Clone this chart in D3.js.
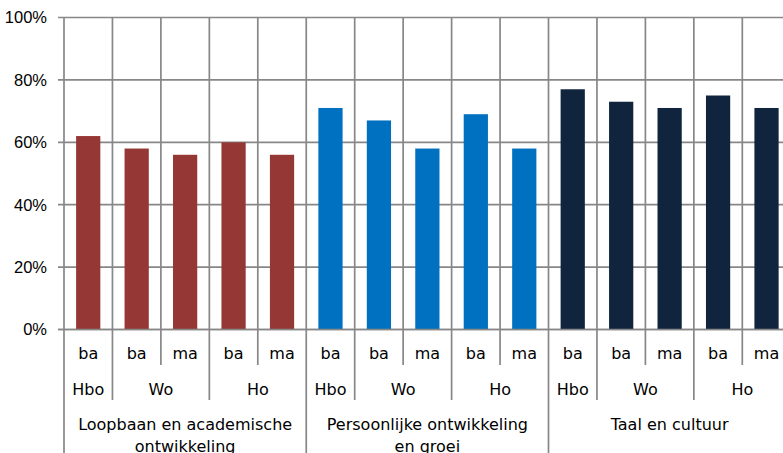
<!DOCTYPE html>
<html><head><meta charset="utf-8">
<script src="https://cdn.jsdelivr.net/npm/d3@7"></script>
<style>html,body{margin:0;padding:0;background:#fff;overflow:hidden}</style>
</head><body>
<svg id="chart" width="783" height="453"></svg>
<script>
// ---- data ----
const themes = ["Loopbaan en academische|ontwikkeling", "Persoonlijke ontwikkeling|en groei", "Taal en cultuur"];
const institutions = ["Hbo", "Wo", "Ho"];
const degrees = [["ba"], ["ba", "ma"], ["ba", "ma"]];
const loopbaanValues = [62, 58, 56, 60, 56];
const persoonlijkValues = [71, 67, 58, 69, 58];
const taalValues = [77, 73, 71, 75, 71];
const themeColors = ["#953735", "#0070C0", "#10243E"];
const yTicks = [0, 20, 40, 60, 80, 100];

// ---- build flat rows ----
const seriesValues = [loopbaanValues, persoonlijkValues, taalValues];
const rows = [];
themes.forEach((t, ti) => {
  let k = 0;
  institutions.forEach((inst, ii) => {
    degrees[ii].forEach(d => {
      rows.push({theme: ti, inst: ii, deg: d, value: seriesValues[ti][k], key: ti + "-" + ii + "-" + d});
      k++;
    });
  });
});

const svg = d3.select("#chart");
const left = 64, bandW = 48.45;
const x = d3.scaleBand().domain(rows.map(r => r.key)).range([left, left + bandW * rows.length]).padding(0);
const y = d3.scaleLinear().domain([0, 100]).range([329.5, 17.5]);
const grid = "#878787";
const catFont = "'DejaVu Sans', sans-serif";
const catSize = 16;

// horizontal gridlines + ticks
svg.append("g").selectAll("line").data(yTicks).join("line")
  .attr("x1", left - 6).attr("x2", 783)
  .attr("y1", d => y(d)).attr("y2", d => y(d))
  .attr("stroke", grid).attr("stroke-width", 1.7);

// y labels
svg.append("g").selectAll("text").data(yTicks).join("text")
  .attr("x", 47).attr("y", d => y(d)).attr("dy", "0.36em")
  .attr("text-anchor", "end")
  .attr("font-family", "'Liberation Sans', Arial, sans-serif").attr("font-size", 16.5)
  .attr("fill", "#000").text(d => d + "%");

// boundary lines
const bounds = d3.range(rows.length + 1);
function boundBottom(i) {
  if (i === 0 || i === rows.length) return 453;
  const prev = rows[i - 1], next = rows[i];
  if (prev.theme !== next.theme) return 453;
  if (prev.inst !== next.inst) return 400;
  return 365;
}
svg.append("g").selectAll("line").data(bounds).join("line")
  .attr("x1", i => left + i * x.bandwidth()).attr("x2", i => left + i * x.bandwidth())
  .attr("y1", y(100)).attr("y2", i => boundBottom(i))
  .attr("stroke", grid).attr("stroke-width", 1.7);

// bars
svg.append("g").selectAll("rect").data(rows).join("rect")
  .attr("x", d => x(d.key) + x.bandwidth() * 0.25)
  .attr("width", x.bandwidth() * 0.5)
  .attr("y", d => y(d.value))
  .attr("height", d => y(0) - y(d.value))
  .attr("fill", d => themeColors[d.theme]);

// redraw zero axis line on top
svg.append("line").attr("x1", left - 6).attr("x2", 783).attr("y1", y(0)).attr("y2", y(0))
  .attr("stroke", grid).attr("stroke-width", 1.7);

// level 1 labels
svg.append("g").selectAll("text").data(rows).join("text")
  .attr("x", d => x(d.key) + x.bandwidth() / 2).attr("y", 353).attr("dy", "0.36em")
  .attr("text-anchor", "middle").attr("font-family", catFont).attr("font-size", catSize)
  .attr("fill", "#000").text(d => d.deg);

// level 2 labels
const instGroups = d3.groups(rows, d => d.theme + "-" + d.inst).map(([k, arr]) => ({
  name: institutions[arr[0].inst],
  cx: (x(arr[0].key) + x(arr[arr.length - 1].key) + x.bandwidth()) / 2
}));
svg.append("g").selectAll("text").data(instGroups).join("text")
  .attr("x", d => d.cx).attr("y", 389).attr("dy", "0.36em")
  .attr("text-anchor", "middle").attr("font-family", catFont).attr("font-size", catSize)
  .attr("fill", "#000").text(d => d.name);

// level 3 labels
const themeGroups = d3.groups(rows, d => d.theme).map(([k, arr]) => ({
  lines: themes[k].split("|"),
  cx: (x(arr[0].key) + x(arr[arr.length - 1].key) + x.bandwidth()) / 2
}));
const tg = svg.append("g").selectAll("text").data(themeGroups).join("text")
  .attr("x", d => d.cx).attr("y", 424)
  .attr("text-anchor", "middle").attr("font-family", catFont).attr("font-size", catSize)
  .attr("fill", "#000");
tg.selectAll("tspan").data(d => d.lines.map(l => ({l, cx: d.cx}))).join("tspan")
  .attr("x", d => d.cx).attr("dy", (d, i) => i === 0 ? "0.36em" : 22)
  .text(d => d.l);
</script>
</body></html>
